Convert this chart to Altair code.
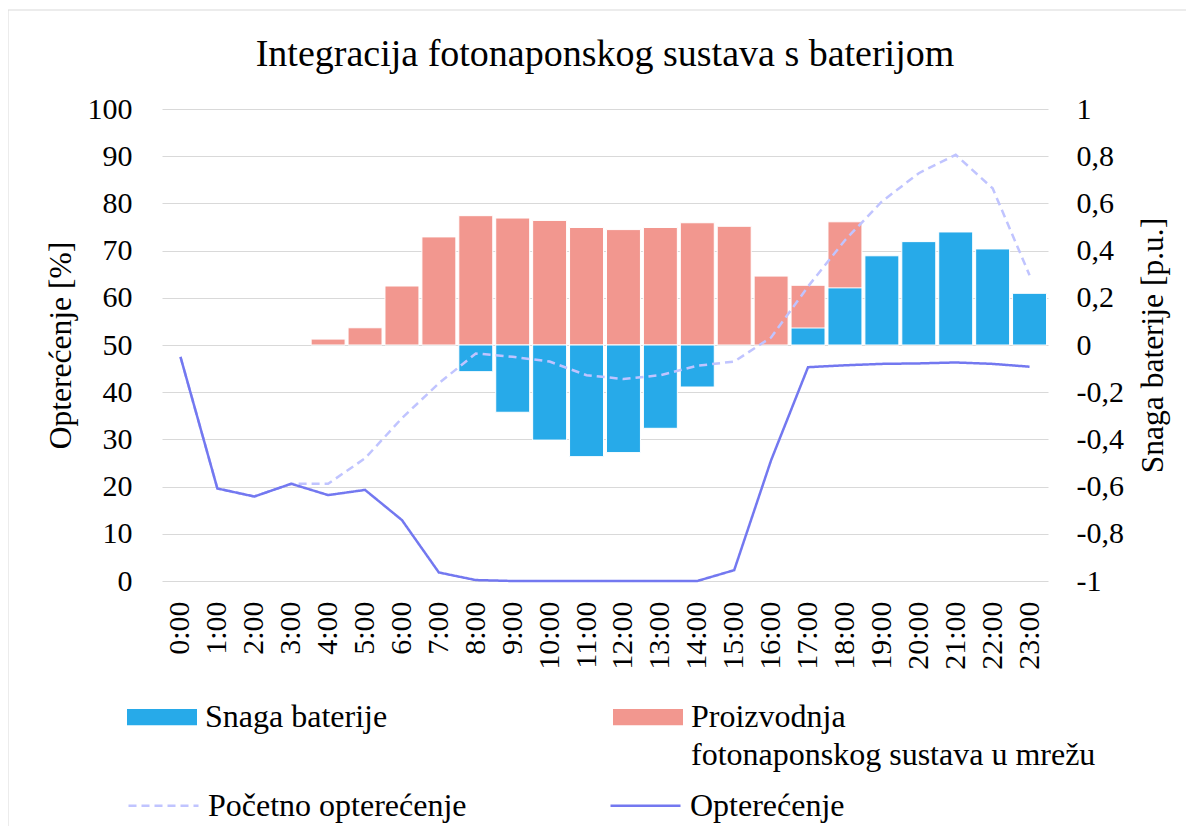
import altair as alt
import pandas as pd

# ---------------- data ----------------
hours = [f"{h}:00" for h in range(24)]

# secondary axis (p.u.)
pv_to_grid = [0, 0, 0, 0, 0.025, 0.073, 0.25, 0.458, 0.548, 0.538, 0.528, 0.498,
              0.489, 0.498, 0.518, 0.503, 0.292, 0.253, 0.522, 0, 0, 0, 0, 0]
battery = [0, 0, 0, 0, 0, 0, 0, 0, -0.113, -0.285, -0.403, -0.473,
           -0.456, -0.353, -0.178, 0, 0, 0.072, 0.242, 0.378, 0.438, 0.479, 0.407, 0.219]

# primary axis (%)
load_initial = [47.5, 19.6, 17.9, 20.6, 20.6, 26.0, 34.5, 41.9, 48.2, 47.5, 46.5, 43.6,
                42.8, 43.6, 45.6, 46.5, 51.6, 62.4, 72.2, 80.4, 86.4, 90.3, 83.2, 64.8]
load = [47.5, 19.6, 17.9, 20.6, 18.2, 19.3, 12.9, 1.8, 0.2, 0, 0, 0,
        0, 0, 0, 2.3, 25.6, 45.3, 45.7, 46.0, 46.1, 46.3, 46.0, 45.4]

left_ticks = [0, 10, 20, 30, 40, 50, 60, 70, 80, 90, 100]
right_ticks = [-1, -0.8, -0.6, -0.4, -0.2, 0, 0.2, 0.4, 0.6, 0.8, 1]

BAT = "Snaga baterije"
PV = "Proizvodnja fotonaponskog sustava u mrežu"
INIT = "Početno opterećenje"
LOAD = "Opterećenje"

BLUE = "#27AAE9"
PINK = "#F2978F"
LIGHT = "#C0C4FF"
PURPLE = "#7378F0"
FONT = "Liberation Serif"

bars_df = pd.DataFrame({
    "sat": hours * 2,
    "serija": [PV] * 24 + [BAT] * 24,
    "vrijednost": pv_to_grid + battery,
})
lines_df = pd.DataFrame({
    "sat": hours * 2,
    "serija": [INIT] * 24 + [LOAD] * 24,
    "opterecenje": load_initial + load,
})

# ---------------- encodings ----------------
x_enc = alt.X(
    "sat:N", sort=hours,
    scale=alt.Scale(paddingInner=0.08, paddingOuter=0.04),
    axis=alt.Axis(title=None, labelAngle=-90, ticks=False, domain=False, grid=False,
                  labelPadding=20, labelFont=FONT, labelFontSize=30, labelColor="black",
                  labelOverlap=False),
)

right_axis = alt.Axis(
    orient="right", values=right_ticks,
    labelExpr="replace(toString(datum.value), '.', ',')",
    title="Snaga baterije [p.u.]", titleAngle=270, titlePadding=46,
    labelPadding=28, ticks=False, domain=False, grid=False,
    labelFont=FONT, labelFontSize=30, labelColor="black", labelOverlap=False,
    titleFont=FONT, titleFontSize=31.5, titleFontWeight="normal", titleColor="black",
)
left_axis = alt.Axis(
    orient="left", values=left_ticks,
    title="Opterećenje [%]", titlePadding=10,
    labelPadding=30, ticks=False, domain=False, grid=True,
    gridColor="#D9D9D9", gridWidth=1,
    labelFont=FONT, labelFontSize=30, labelColor="black", labelOverlap=False,
    titleFont=FONT, titleFontSize=31.5, titleFontWeight="normal", titleColor="black",
)

fill_scale = alt.Scale(domain=[BAT, PV], range=[BLUE, PINK])
fill_legend = alt.Legend(
    title=None, orient="none", legendX=-35, legendY=558, padding=0,
    columns=2, columnPadding=225,
    symbolType="M-1,0.2H1V0.667H-1Z", symbolSize=4900, symbolStrokeWidth=0,
    labelFont=FONT, labelFontSize=32, labelColor="black", labelLimit=700,
    labelOffset=8, labelBaseline="top",
    labelExpr=(f"datum.label == '{PV}' ? ['Proizvodnja', 'fotonaponskog sustava u mrežu']"
               " : [datum.label, ' ']"),
)

stroke_scale = alt.Scale(domain=[INIT, LOAD], range=[LIGHT, PURPLE])
dash_scale = alt.Scale(domain=[INIT, LOAD], range=[[8, 5], [1, 0]])


def line_legend():
    return alt.Legend(
        title=None, orient="none", legendX=-35, legendY=660, padding=0,
        columns=2, columnPadding=138,
        symbolType="stroke", symbolSize=4900, symbolStrokeWidth=2.5,
        labelFont=FONT, labelFontSize=32, labelColor="black", labelLimit=700,
        labelOffset=8,
    )


y_bar = alt.Y("vrijednost:Q", stack=None,
              scale=alt.Scale(domain=[-1, 1], nice=False), axis=right_axis)
y_line = alt.Y("opterecenje:Q",
               scale=alt.Scale(domain=[0, 100], nice=False), axis=left_axis)

base_bars = alt.Chart(bars_df)
pink = base_bars.transform_filter(
    f"datum.serija == '{PV}' && datum.vrijednost != 0"
).mark_bar(stroke="white", strokeWidth=1).encode(
    x=x_enc, y=y_bar,
    fill=alt.Fill("serija:N", scale=fill_scale, legend=fill_legend),
)
blue = base_bars.transform_filter(
    f"datum.serija == '{BAT}' && datum.vrijednost != 0"
).mark_bar(stroke="white", strokeWidth=1).encode(
    x=x_enc, y=y_bar,
    fill=alt.Fill("serija:N", scale=fill_scale, legend=fill_legend),
)
bars = alt.layer(pink, blue)

base_lines = alt.Chart(lines_df)
dashed = base_lines.transform_filter(f"datum.serija == '{INIT}'").mark_line(strokeWidth=2.5).encode(
    x=x_enc, y=y_line,
    stroke=alt.Stroke("serija:N", scale=stroke_scale, legend=line_legend()),
    strokeDash=alt.StrokeDash("serija:N", scale=dash_scale, legend=line_legend()),
)
solid = base_lines.transform_filter(f"datum.serija == '{LOAD}'").mark_line(strokeWidth=2.5).encode(
    x=x_enc, y=y_line,
    stroke=alt.Stroke("serija:N", scale=stroke_scale, legend=line_legend()),
    strokeDash=alt.StrokeDash("serija:N", scale=dash_scale, legend=line_legend()),
)
lines = alt.layer(dashed, solid)

# light chart-area frame edges (decoration: top and left edge only are in view)
frame_src = alt.Data(values=[{"k": 1}])
frame_top = alt.Chart(frame_src).mark_rule(color="#D9D9D9", strokeWidth=1).encode(
    x=alt.value(-154), x2=alt.value(1100), y=alt.value(-99)
)
frame_left = alt.Chart(frame_src).mark_rule(color="#D9D9D9", strokeWidth=1).encode(
    x=alt.value(-154), y=alt.value(-99), y2=alt.value(800)
)

chart = alt.layer(frame_top, frame_left, bars, lines).resolve_scale(
    y="independent"
).properties(
    width=886, height=472,
    autosize=alt.AutoSizeParams(type="none"),
    padding={"left": 154, "top": 101, "right": 138, "bottom": 245},
    title=alt.TitleParams(
        "Integracija fotonaponskog sustava s baterijom",
        font=FONT, fontSize=38, fontWeight="normal", color="black",
        anchor="middle", frame="group", offset=0, dy=64,
    ),
).configure(
    font=FONT,
    style={"guide-label": {"lineHeight": 38}},
).configure_view(stroke=None)

chart.save("out.html", embed_options={"renderer": "svg", "actions": False})
